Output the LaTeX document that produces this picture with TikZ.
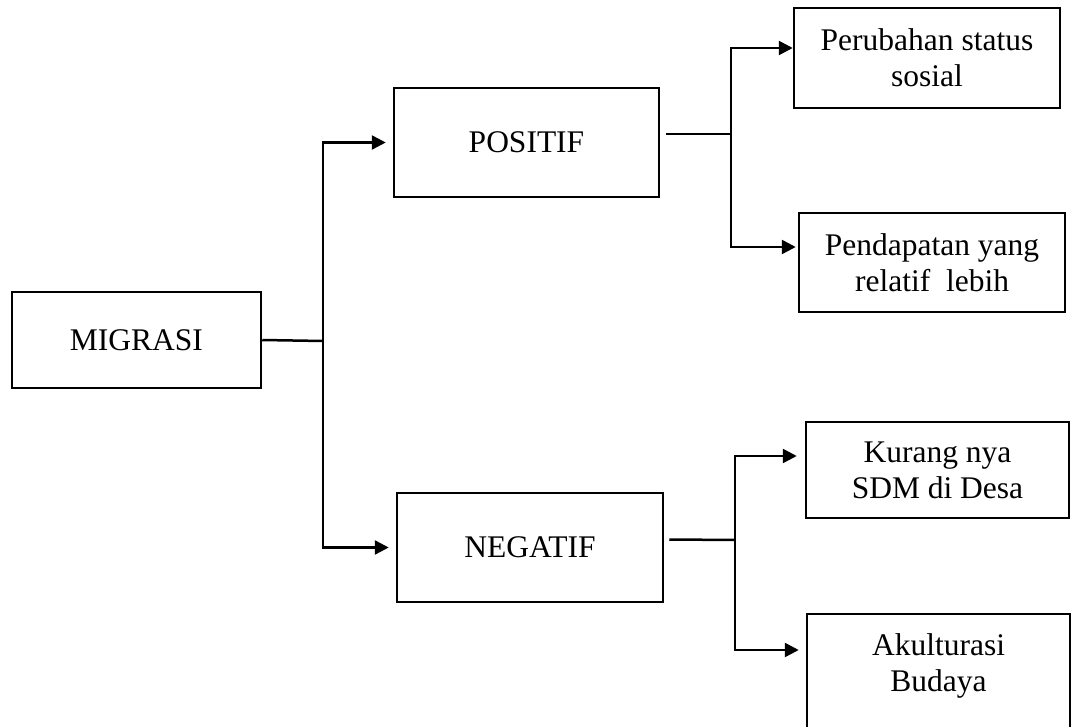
\documentclass[tikz,border=0pt]{standalone}
\usepackage{fontspec}
\setmainfont{Liberation Serif}
\usepackage{tikz}
\usetikzlibrary{arrows.meta}

\begin{document}
\begin{tikzpicture}[
  x=0.5pt, y=-0.5pt,
  box/.style={draw, line width=1.25pt, minimum width=133pt, minimum height=50pt,
              align=center, inner sep=2pt,
              font=\fontsize{15.75pt}{18pt}\selectfont},
  line/.style={line width=1.25pt},
  arrow/.style={line, -{Triangle[length=7pt,width=7pt]}}
]
  \useasboundingbox (0,0) rectangle (1071,727);

  \node[box, minimum width=124.5pt, minimum height=48pt] (mig) at (136.5,340) {MIGRASI};
  \node[box, minimum width=132.5pt, minimum height=54.5pt] (pos) at (526.5,142.5) {POSITIF};
  \node[box, minimum height=54.5pt] (neg) at (530,547.5) {NEGATIF};

  \node[box] (per) at (927,58) {Perubahan status\\sosial};
  \node[box, minimum height=49.5pt] (pen) at (932,262.5) {Pendapatan yang\\relatif~ lebih};
  \node[box, minimum width=131.5pt, minimum height=48pt] (kur) at (937.5,470) {Kurang nya\\SDM di Desa};
  \node[box, minimum width=131.5pt, minimum height=63pt, text depth=14pt] (aku) at (938.5,677) {Akulturasi\\Budaya};

  \coordinate (jm) at (323,341);
  \coordinate (jp) at (731,134);
  \coordinate (jn) at (735,540);

  \draw[line] (mig.east) -- (jm);
  \draw[arrow, shorten >=3.5pt] (jm) |- (pos.west);
  \draw[arrow, shorten >=3.5pt] (jm) |- (neg.west);

  \draw[line] ([shift={(3pt,4.25pt)}]pos.east) -- (jp);
  \draw[arrow] (jp) |- ([yshift=5pt]per.west);
  \draw[arrow, shorten >=1pt] (jp) |- ([yshift=7.75pt]pen.west);

  \draw[line] ([shift={(2.5pt,4pt)}]neg.east) -- (jn);
  \draw[arrow, shorten >=4pt] (jn) |- ([yshift=7pt]kur.west);
  \draw[arrow, shorten >=3.5pt] (jn) |- ([yshift=13.5pt]aku.west);
\end{tikzpicture}
\end{document}
